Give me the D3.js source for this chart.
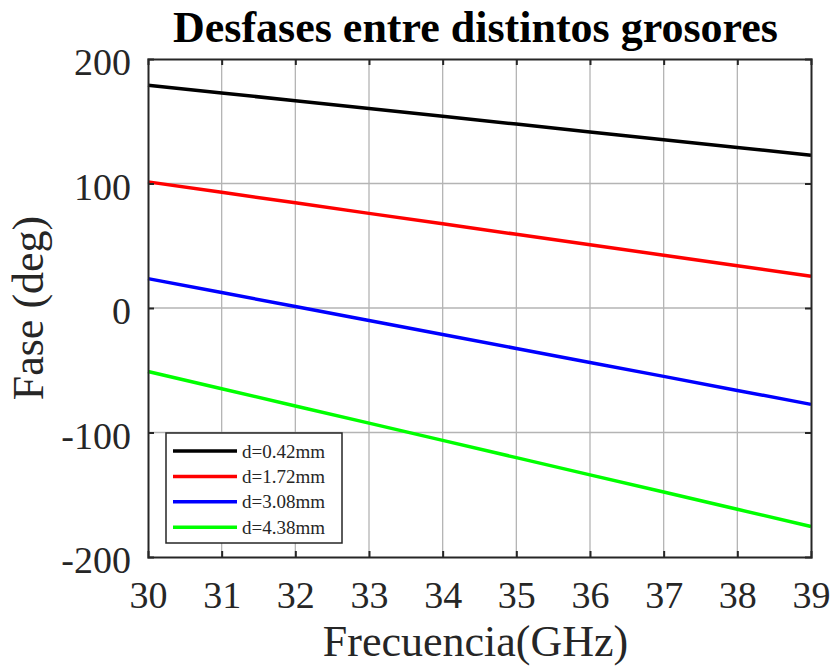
<!DOCTYPE html>
<html><head><meta charset="utf-8">
<script src="https://cdn.jsdelivr.net/npm/d3@7"></script>
<style>body{margin:0;background:#fff}svg{display:block}text{font-family:"Liberation Serif","Times New Roman",serif !important;fill:#262626}</style>
</head><body><svg id="c" width="832" height="668"></svg>
<script>
const freqs = [30,31,32,33,34,35,36,37,38,39];
const d042 = [179,172.7,166.5,160.2,154,147.7,141.4,135.2,128.9,122.7];
const d172 = [101.3,92.9,84.5,76,67.6,59.2,50.8,42.4,33.9,25.5];
const d308 = [23.6,12.4,1.2,-10.1,-21.3,-32.5,-43.7,-54.9,-66.2,-77.4];
const d438 = [-51,-64.8,-78.7,-92.5,-106.3,-120.2,-134,-147.8,-161.7,-175.5];
const seriesNames = ["d=0.42mm","d=1.72mm","d=3.08mm","d=4.38mm"];
const seriesColors = ["#000000","#ff0000","#0000ff","#00ff00"];
const xTicks = [30,31,32,33,34,35,36,37,38,39];
const yTicks = [-200,-100,0,100,200];
const titleText = "Desfases entre distintos grosores";
const xLabel = "Frecuencia(GHz)";
const yLabel = "Fase (deg)";

const series = [d042,d172,d308,d438];
const svg = d3.select("#c");
const L=148, R=811, T=59, B=557;
const x = d3.scaleLinear().domain([30,39]).range([L,R]);
const y = d3.scaleLinear().domain([-200,200]).range([B,T]);
const axc = "#262626";
const serif = "'Liberation Serif','Times New Roman',serif";

// grid
svg.append("g").selectAll("line").data(xTicks.slice(1,-1)).join("line")
  .attr("x1",d=>x(d)).attr("x2",d=>x(d)).attr("y1",T).attr("y2",B)
  .attr("stroke","#b4b4b4").attr("stroke-width",1.3);
svg.append("g").selectAll("line").data(yTicks.slice(1,-1)).join("line")
  .attr("y1",d=>y(d)).attr("y2",d=>y(d)).attr("x1",L).attr("x2",R)
  .attr("stroke","#b4b4b4").attr("stroke-width",1.3);

// lines
const line = d3.line().x((d,i)=>x(freqs[i])).y(d=>y(d));
series.forEach((s,k)=>{
  svg.append("path").datum(s).attr("d",line).attr("fill","none")
    .attr("stroke",seriesColors[k]).attr("stroke-width",3.5);
});

// axes (ticks inward)
const tl = 6;
const fmt = d=>String(d);
const gB = svg.append("g").attr("transform",`translate(0,${B})`)
  .call(d3.axisBottom(x).tickValues(xTicks).tickSize(-tl).tickPadding(24).tickFormat(fmt));
const gT = svg.append("g").attr("transform",`translate(0,${T})`)
  .call(d3.axisTop(x).tickValues(xTicks).tickSize(-tl).tickFormat(""));
const gL = svg.append("g").attr("transform",`translate(${L},0)`)
  .call(d3.axisLeft(y).tickValues(yTicks).tickSize(-tl).tickPadding(17).tickFormat(fmt));
const gR = svg.append("g").attr("transform",`translate(${R},0)`)
  .call(d3.axisRight(y).tickValues(yTicks).tickSize(-tl).tickFormat(""));
[gB,gT,gL,gR].forEach(g=>{
  g.attr("font-family",serif).attr("font-size",38);
  g.select(".domain").attr("stroke",axc).attr("stroke-width",2);
  g.selectAll(".tick line").attr("stroke",axc).attr("stroke-width",2);
  g.selectAll("text").style("font-family",serif).attr("font-size",38).attr("fill",axc);
});
gB.selectAll(".tick line").filter(d=>d===30||d===39).remove();
gT.selectAll(".tick line").filter(d=>d===30||d===39).remove();
gL.selectAll(".tick line").filter(d=>d===-200||d===200).remove();
gR.selectAll(".tick line").filter(d=>d===-200||d===200).remove();
gB.selectAll(".tick text").attr("dy","0.71em");
gL.selectAll(".tick text").attr("dy","0.42em");

// title & labels
svg.append("text").attr("x",(L+R)/2-4).attr("y",42).attr("text-anchor","middle")
  .style("font-family",serif).attr("font-size",44).attr("font-weight","bold").style("fill","#000").text(titleText);
svg.append("text").attr("x",(L+R)/2-4).attr("y",656).attr("text-anchor","middle")
  .style("font-family",serif).attr("font-size",44).text(xLabel);
svg.append("text").attr("transform",`translate(43,${(T+B)/2}) rotate(-90)`).attr("text-anchor","middle")
  .style("font-family",serif).attr("font-size",44).text(yLabel);

// legend
const lg = svg.append("g");
lg.append("rect").attr("x",166).attr("y",433).attr("width",176).attr("height",110)
  .attr("fill","#fff").attr("stroke",axc).attr("stroke-width",1.5);
seriesNames.forEach((n,k)=>{
  const yy = 451 + k*25.4;
  lg.append("line").attr("x1",173).attr("x2",237).attr("y1",yy).attr("y2",yy)
    .attr("stroke",seriesColors[k]).attr("stroke-width",3.5);
  lg.append("text").attr("x",242).attr("y",yy).attr("dy","0.35em")
    .style("font-family",serif).attr("font-size",19).text(n);
});
</script></body></html>
